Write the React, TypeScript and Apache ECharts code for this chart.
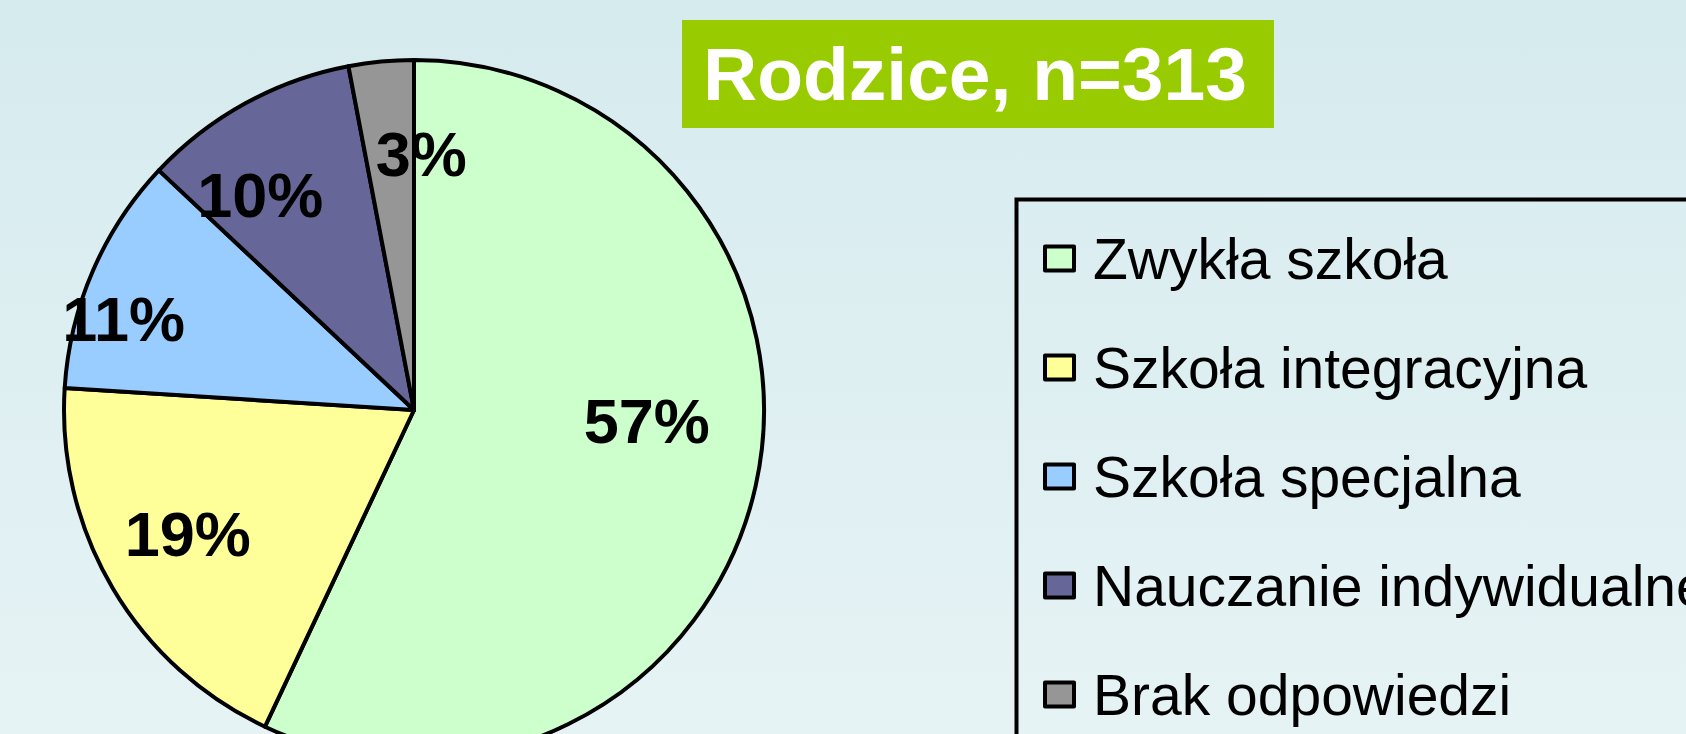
import React, { useEffect, useRef } from "react";
import * as echarts from "echarts";

const categories = [
  "Zwykła szkoła",
  "Szkoła integracyjna",
  "Szkoła specjalna",
  "Nauczanie indywidualne",
  "Brak odpowiedzi",
];
const percentValues = [57, 19, 11, 10, 3];
const sliceColors = ["#CCFFCC", "#FFFF99", "#99CCFF", "#666699", "#969696"];
const titleText = "Rodzice, n=313";

// label nudges (px) relative to the default inside position
const labelNudges: [number, number][] = [
  [59, -28],
  [-73, 33],
  [-127, -20],
  [-68, -59],
  [24, -79],
];

const FONT = "'Liberation Sans', Arial, sans-serif";

export default function App() {
  const ref = useRef<HTMLDivElement>(null);

  useEffect(() => {
    document.body.style.margin = "0";
    if (!ref.current) return;
    const chart = echarts.init(ref.current, undefined, { renderer: "svg" });
    const option: any = {
      animation: false,
      backgroundColor: new echarts.graphic.LinearGradient(0, 0, 0, 1, [
        { offset: 0, color: "#D6EBEE" },
        { offset: 1, color: "#E6F3F5" },
      ]),
      title: {
        text: titleText,
        left: 682,
        top: 20,
        backgroundColor: "#99CC00",
        padding: [14, 27, 14, 21],
        textStyle: {
          color: "#FFFFFF",
          fontSize: 75,
          fontWeight: "bold",
          fontFamily: FONT,
          lineHeight: 80,
        },
      },
      graphic: [
        {
          type: "rect",
          left: 1014,
          top: 197,
          shape: { width: 800, height: 700 },
          style: { fill: "none", stroke: "#000000", lineWidth: 4 },
          z: 1,
        },
      ],
      legend: {
        orient: "vertical",
        left: 1043,
        top: 230,
        padding: 0,
        itemGap: 52,
        itemWidth: 29,
        itemHeight: 24,
        icon: "rect",
        selectedMode: false,
        itemStyle: { borderColor: "#000000", borderWidth: 4, borderJoin: "round" },
        textStyle: {
          color: "#000000",
          fontSize: 57,
          fontFamily: FONT,
          lineHeight: 56,
          padding: [0, 0, 0, 14],
        },
        data: categories,
      },
      series: [
        {
          type: "pie",
          center: [414, 410],
          radius: 350,
          startAngle: 90,
          clockwise: true,
          avoidLabelOverlap: false,
          emphasis: { disabled: true },
          itemStyle: { borderColor: "#000000", borderWidth: 4, borderJoin: "round" },
          label: {
            show: true,
            position: "inside",
            formatter: "{c}%",
            color: "#000000",
            fontSize: 63,
            fontWeight: "bold",
            fontFamily: FONT,
          },
          labelLine: { show: false },
          labelLayout: (params: any) => {
            const n = labelNudges[params.dataIndex] || [0, 0];
            return { dx: n[0], dy: n[1] };
          },
          data: categories.map((name, i) => ({
            name,
            value: percentValues[i],
            itemStyle: { color: sliceColors[i] },
          })),
        },
      ],
    };
    chart.setOption(option);
    return () => chart.dispose();
  }, []);

  return <div ref={ref} style={{ width: 1686, height: 734 }} />;
}
